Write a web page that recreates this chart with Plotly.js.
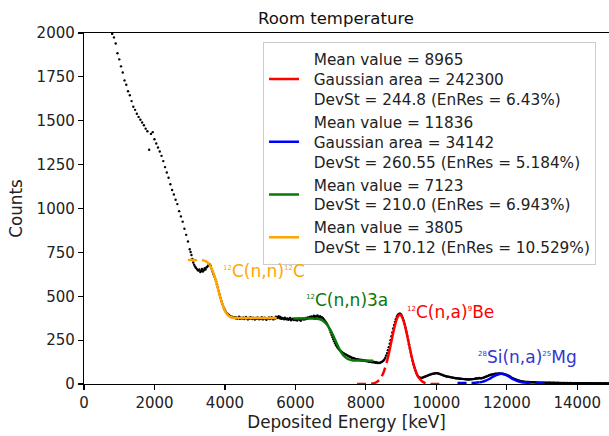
<!DOCTYPE html>
<html>
<head>
<meta charset="utf-8">
<script src="https://cdn.plot.ly/plotly-3.0.1.min.js"></script>
<style>html,body{margin:0;padding:0;background:#fff;}#chart{width:609px;height:436px;}</style>
</head>
<body>
<div id="chart"></div>
<script>
// Measured spectrum (deposited energy in keV, counts)
const energy = [
 800,850,900,950,1000,1050,1100,1150,1200,1250,
 1300,1350,1400,1450,1500,1550,1600,1650,1700,1750,
 1800,1850,1900,1950,2000,2050,2100,2150,2200,2250,
 2300,2350,2400,2450,2500,2550,2600,2650,2700,2750,
 2800,2850,2900,2950,
 3000,3025,3050,3075,3100,3125,3150,3175,3200,3225,
 3250,3275,3300,3325,3350,3375,3400,3425,3450,3475,
 3500,3525,3550,3575,3600,3625,3650,3675,3700,3725,
 3750,3775,3800,3825,3850,3875,3900,3925,3950,3975,
 4000,4025,4050,4075,4100,4125,4150,4175,4200,4225,
 4250,4275,4300,4325,4350,4375,4400,4425,4450,4475,
 4500,4525,4550,4575,4600,4625,4650,4675,4700,4725,
 4750,4775,4800,4825,4850,4875,4900,4925,4950,4975,
 5000,5025,5050,5075,5100,5125,5150,5175,5200,5225,
 5250,5275,5300,5325,5350,5375,5400,5425,5450,5475,
 5500,5525,5550,5575,5600,5625,5650,5675,5700,5725,
 5750,5775,5800,5825,5850,5875,5900,5925,5950,5975,
 6000,6025,6050,6075,6100,6125,6150,6175,6200,6225,
 6250,6275,6300,6325,6350,6375,6400,6425,6450,6475,
 6500,6525,6550,6575,6600,6625,6650,6675,6700,6725,
 6750,6775,6800,6825,6850,6875,6900,6925,6950,6975,
 7000,7025,7050,7075,7100,7125,7150,7175,7200,7225,
 7250,7275,7300,7325,7350,7375,7400,7425,7450,7475,
 7500,7525,7550,7575,7600,7625,7650,7675,7700,7725,
 7750,7775,7800,7825,7850,7875,7900,7925,7950,7975,
 8000,8025,8050,8075,8100,8125,8150,8175,8200,8225,
 8250,8275,8300,8325,8350,8375,8400,8425,8450,8475,
 8500,8525,8550,8575,8600,8625,8650,8675,8700,8725,
 8750,8775,8800,8825,8850,8875,8900,8925,8950,8975,
 9000,9025,9050,9075,9100,9125,9150,9175,9200,9225,
 9250,9275,9300,9325,9350,9375,9400,9425,9450,9475,
 9500,9525,9550,9575,9600,9625,9650,9675,9700,9725,
 9750,9775,9800,9825,9850,9875,9900,9925,9950,9975,
 10000,10025,10050,10075,10100,10125,10150,10175,10200,10225,
 10250,10275,10300,10325,10350,10375,10400,10425,10450,10475,
 10500,10525,10550,10575,10600,10625,10650,10675,10700,10725,
 10750,10775,10800,10825,10850,10875,10900,10925,10950,10975,
 11000,11025,11050,11075,11100,11125,11150,11175,11200,11225,
 11250,11275,11300,11325,11350,11375,11400,11425,11450,11475,
 11500,11525,11550,11575,11600,11625,11650,11675,11700,11725,
 11750,11775,11800,11825,11850,11875,11900,11925,11950,11975,
 12000,12025,12050,12075,12100,12125,12150,12175,12200,12225,
 12250,12275,12300,12325,12350,12375,12400,12425,12450,12475,
 12500,12525,12550,12575,12600,12625,12650,12675,12700,12725,
 12750,12775,12800,12825,12850,12875,12900,12925,12950,12975,
 13000,13025,13050,13075,13100,13125,13150,13175,13200,13225,
 13250,13275,13300,13325,13350,13375,13400,13425,13450,13475,
 13500,13525,13550,13575,13600,13625,13650,13675,13700,13725,
 13750,13775,13800,13825,13850,13875,13900,13925,13950,13975,
 14000,14025,14050,14075,14100,14125,14150,14175,14200,14225,
 14250,14275,14300,14325,14350,14375,14400,14425,14450,14475,
 14500,14525,14550,14575,14600,14625,14650,14675,14700,14725,
 14750,14775,14800,14825,14850,14875,14900
];
const counts = [
 1995,1975,1940,1885,1850,1810,1775,1730,1705,1668,
 1645,1612,1580,1562,1540,1522,1506,1490,1474,1455,
 1440,1335,1425,1435,1395,1370,1348,1325,1300,1270,
 1236,1205,1175,1138,1105,1080,1050,1025,985,955,
 925,885,850,812,
 768,752,735,712,692,680,670,662,656,650,
 646,652,638,644,655,641,648,660,652,664,
 668,675,684,680,672,655,640,626,612,598,
 584,568,550,530,510,490,472,456,444,432,
 420,412,404,399,395,390,386,382,384,379,
 377,381,374,379,372,376,383,371,378,375,
 373,379,370,376,382,374,368,377,372,380,
 375,370,378,373,367,376,371,379,374,369,
 376,372,380,368,374,378,371,366,375,373,
 379,370,374,381,372,368,377,373,384,376,
 380,386,375,382,371,377,373,369,378,372,
 368,374,366,371,377,363,369,372,365,370,
 364,371,362,368,373,366,360,369,374,367,
 372,368,376,371,379,374,382,377,385,380,
 384,389,381,387,383,390,385,380,386,378,
 380,376,370,364,357,350,342,332,320,307,
 294,281,268,255,243,232,222,213,206,200,
 194,190,185,181,177,174,171,168,166,163,
 160,157,155,153,150,148,147,145,143,142,
 141,138,140,136,138,134,137,133,135,131,
 133,129,132,127,130,126,129,124,127,123,
 125,121,124,120,122,119,121,123,126,129,
 134,140,150,162,176,192,210,230,250,272,
 294,316,336,354,369,382,392,398,401,400,
 396,388,376,360,342,320,298,274,250,226,
 202,178,155,133,112,94,78,64,53,45,
 40,37,35,35,36,38,40,42,44,46,
 48,50,52,54,55,57,58,59,60,61,
 62,61,60,59,57,55,53,51,49,47,
 46,44,43,42,41,40,39,38,37,36,
 35,34,33,33,32,31,31,30,30,29,
 29,28,28,27,27,27,26,26,27,27,
 27,28,28,29,30,31,31,32,33,34,
 32,33,34,35,37,39,41,43,45,47,
 50,51,53,54,55,56,57,58,58,59,
 59,60,60,59,59,58,57,56,55,53,
 51,49,47,44,41,38,35,33,30,28,
 26,24,22,20,19,17,16,15,14,13,
 13,12,12,11,11,11,10,10,10,10,
 9,10,9,9,9,8,9,8,8,8,
 8,8,7,8,7,7,8,7,7,7,
 7,6,7,7,6,7,6,6,7,6,
 6,6,6,5,6,6,5,6,5,6,
 5,5,6,5,5,5,5,4,5,5,
 5,4,5,4,5,4,4,5,4,4,
 4,4,5,4,4,4,4,3,4,4,
 4,3,4,4,3,4,4,3,4,3,
 3,4,3,4,3,3,4
];

// Fit curves
const orangeDashE = [2950,3100,3250,3350,3450,3560];
const orangeDashC = [706,706,705.5,705,700,681];
const orangeE = [3560,3600,3650,3700,3750,3800,3850,3900,3950,4000,4050,4100,4150,4200,4300,4400,5470];
const orangeC = [681,668,646,618,583,545,506.5,471,441,417.5,400.7,389.7,383,379.3,376.6,376,376];

const greenE = [5940,6200,6500,6600,6700,6800,6900,7000,7100,7200,7300,7400,7500,7600,7700,7800,8210];
const greenC = [373,373,372.6,371.5,368,358,338,306,264,219,181,155.5,141.7,135.8,133.7,133.2,133];

const redDashLE = [7750,7900,8000,8100,8200,8300,8400,8500,8600];
const redDashLC = [0,0.03,0.17,0.78,3.0,9.9,27.6,65.2,130];
const redE = [8600,8650,8700,8750,8800,8850,8900,8950,8965,9000,9050,9100,9150,9200,9250,9300,9350,9400,9450,9500];
const redC = [130,172.9,220,268.8,314.9,353.8,381.3,394.3,395,391,371.9,339.4,297,249.3,200.8,155.1,114.9,81.7,55.7,36.4];
const redDashRE = [9500,9600,9700,9800,9900,10000,10150];
const redDashRC = [36.4,13.7,4.4,1.2,0.3,0.05,0];

const blueDashLE = [10600,10800,11000,11100,11230];
const blueDashLC = [6,6.02,6.3,7.0,9.5];
const blueE = [11230,11300,11400,11500,11600,11700,11800,11836,11900,12000,12100,12200,12300,12420];
const blueC = [9.5,12.3,18.8,28.6,40.5,51.4,57.5,58,56.5,48.7,37.1,25.6,16.6,10.2];
const blueDashRE = [12420,12500,12600,12800,13130];
const blueDashRC = [10.2,8.0,6.7,6.1,6];

const legendRed = ["Mean value = 8965", "Gaussian area = 242300", "DevSt = 244.8 (EnRes = 6.43%)"];
const legendBlue = ["Mean value = 11836", "Gaussian area = 34142", "DevSt = 260.55 (EnRes = 5.184%)"];
const legendGreen = ["Mean value = 7123", "DevSt = 210.0 (EnRes = 6.943%)"];
const legendOrange = ["Mean value = 3805", "DevSt = 170.12 (EnRes = 10.529%)"];

const xTicks = [0,2000,4000,6000,8000,10000,12000,14000];
const yTicks = [0,250,500,750,1000,1250,1500,1750,2000];

const RED = '#ff0000', BLUE = '#0000ff', GREEN = '#087808', ORANGE = '#ffa500';
const LW = 2.5;
const pad = '&nbsp;&nbsp;';
const legText = lines => lines.map(s => pad + s).join('<br>');
const sup = s => '<sup><span style="font-size:7px">' + s + '</span></sup>';

const traces = [
  {x: energy, y: counts, type: 'scatter', mode: 'markers', showlegend: false,
   marker: {color: '#000', size: 2.4}},
  {x: redE, y: redC, type: 'scatter', mode: 'lines', name: legText(legendRed), line: {color: RED, width: LW, shape: 'spline'}},
  {x: blueE, y: blueC, type: 'scatter', mode: 'lines', name: legText(legendBlue), line: {color: BLUE, width: LW, shape: 'spline'}},
  {x: greenE, y: greenC, type: 'scatter', mode: 'lines', name: legText(legendGreen), line: {color: GREEN, width: LW, shape: 'spline'}},
  {x: orangeE, y: orangeC, type: 'scatter', mode: 'lines', name: legText(legendOrange), line: {color: ORANGE, width: LW, shape: 'spline'}},
  {x: orangeDashE, y: orangeDashC, type: 'scatter', mode: 'lines', showlegend: false, line: {color: ORANGE, width: LW, dash: '9px,5px', shape: 'spline'}},
  {x: redDashLE, y: redDashLC, type: 'scatter', mode: 'lines', showlegend: false, line: {color: RED, width: LW, dash: '9px,5px', shape: 'spline'}},
  {x: redDashRE, y: redDashRC, type: 'scatter', mode: 'lines', showlegend: false, line: {color: RED, width: LW, dash: '9px,5px', shape: 'spline'}},
  {x: blueDashLE, y: blueDashLC, type: 'scatter', mode: 'lines', showlegend: false, line: {color: BLUE, width: LW, dash: '9px,5px', shape: 'spline'}},
  {x: blueDashRE, y: blueDashRC, type: 'scatter', mode: 'lines', showlegend: false, line: {color: BLUE, width: LW, dash: '9px,5px', shape: 'spline'}}
];

const FONT = 'DejaVu Sans, sans-serif';
const layout = {
  width: 609, height: 436,
  margin: {l: 84, r: 0, t: 33, b: 52},
  paper_bgcolor: '#fff', plot_bgcolor: '#fff',
  font: {family: FONT, size: 15, color: '#222'},
  title: {text: 'Room temperature', font: {family: FONT, size: 16.5, color: '#111'},
          x: 0.48, xref: 'paper', xanchor: 'center', y: 0.958, yref: 'container', yanchor: 'middle'},
  xaxis: {range: [0, 14900], tickvals: xTicks, ticktext: xTicks.map(String),
          showline: true, linecolor: '#000', linewidth: 1.2, mirror: true,
          ticks: 'outside', ticklen: 5, tickwidth: 1.2, tickcolor: '#000',
          showgrid: false, zeroline: false, tickfont: {size: 15, color: '#222'},
          title: {text: 'Deposited Energy [keV]', font: {size: 16.8, color: '#222'}, standoff: 5}},
  yaxis: {range: [0, 2000], tickvals: yTicks, ticktext: yTicks.map(String),
          showline: true, linecolor: '#000', linewidth: 1.2,
          ticks: 'outside', ticklen: 5, tickwidth: 1.2, tickcolor: '#000',
          showgrid: false, zeroline: false, tickfont: {size: 15, color: '#222'},
          title: {text: 'Counts', font: {size: 16.8, color: '#222'}, standoff: 9}},
  legend: {x: 0.341, y: 0.975, xanchor: 'left', yanchor: 'top',
           bgcolor: 'rgba(255,255,255,0.85)', bordercolor: '#cccccc', borderwidth: 1,
           font: {family: FONT, size: 15.3, color: '#222'}, valign: 'middle'},
  annotations: [
    {x: 3900, y: 642, xref: 'x', yref: 'y', xanchor: 'left', yanchor: 'middle', showarrow: false,
     text: sup('12') + 'C(n,n)' + sup('12') + 'C', font: {family: FONT, size: 17, color: ORANGE}},
    {x: 6230, y: 481, xref: 'x', yref: 'y', xanchor: 'left', yanchor: 'middle', showarrow: false,
     text: sup('12') + 'C(n,n)3a', font: {family: FONT, size: 17, color: GREEN}},
    {x: 9112, y: 413, xref: 'x', yref: 'y', xanchor: 'left', yanchor: 'middle', showarrow: false,
     text: sup('12') + 'C(n,a)' + sup('9') + 'Be', font: {family: FONT, size: 17, color: RED}},
    {x: 11120, y: 154, xref: 'x', yref: 'y', xanchor: 'left', yanchor: 'middle', showarrow: false,
     text: sup('28') + 'Si(n,a)' + sup('25') + 'Mg', font: {family: FONT, size: 17, color: '#3535d0'}}
  ]
};

Plotly.newPlot('chart', traces, layout, {displayModeBar: false, staticPlot: true});
</script>
</body>
</html>
